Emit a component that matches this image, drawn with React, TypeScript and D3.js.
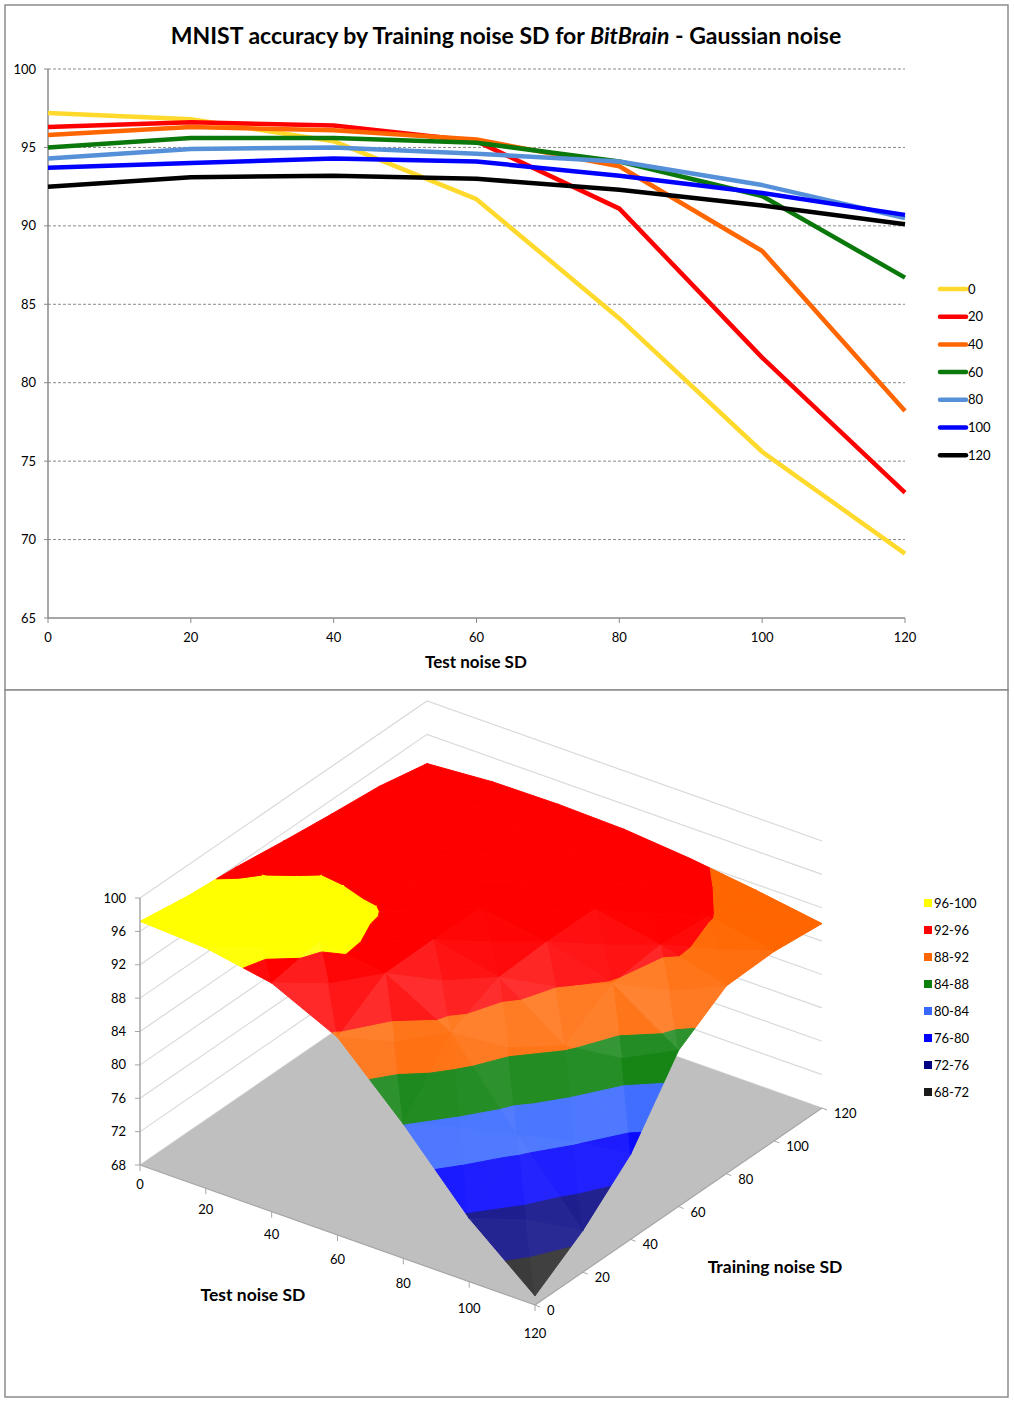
import React, { useEffect, useRef } from 'react';
import * as d3 from 'd3';

// noise SD levels (test on x, training per series)
const noiseLevels = [0, 20, 40, 60, 80, 100, 120];
const seriesNames = ['0', '20', '40', '60', '80', '100', '120'];

// accuracy (%) for each training noise SD, indexed by test noise SD
const acc0 = [97.2, 96.8, 95.4, 91.7, 84.1, 75.6, 69.1];
const acc20 = [96.3, 96.6, 96.4, 95.4, 91.1, 81.6, 73.0];
const acc40 = [95.8, 96.3, 96.1, 95.5, 93.8, 88.4, 78.2];
const acc60 = [95.0, 95.6, 95.6, 95.3, 94.1, 91.9, 86.7];
const acc80 = [94.3, 94.9, 95.0, 94.6, 94.1, 92.6, 90.5];
const acc100 = [93.7, 94.0, 94.3, 94.1, 93.2, 92.1, 90.7];
const acc120 = [92.5, 93.1, 93.2, 93.0, 92.3, 91.3, 90.1];
const seriesValues = [acc0, acc20, acc40, acc60, acc80, acc100, acc120];
const seriesColors = ['#ffd92c', '#ff0000', '#ff6600', '#0a780a', '#5590d9', '#0000ff', '#000000'];

const yTicks = [65, 70, 75, 80, 85, 90, 95, 100];
const zTicks = [68, 72, 76, 80, 84, 88, 92, 96, 100];

const bandLabels = ['96-100', '92-96', '88-92', '84-88', '80-84', '76-80', '72-76', '68-72'];
const bandLows = [96, 92, 88, 84, 80, 76, 72, 68];
const bandColors = ['#ffff00', '#ff0000', '#ff6600', '#0c800c', '#3868ff', '#0000ff', '#000080', '#1a1a1a'];

const FONT = 'Lato, "Open Sans", sans-serif';

type P3 = [number, number, number];

function clipPoly(pts: P3[], val: number, keepAbove: boolean): P3[] {
  const out: P3[] = [];
  const inside = (p: P3) => (keepAbove ? p[2] >= val : p[2] <= val);
  const cut = (a: P3, b: P3): P3 => {
    const f = (val - a[2]) / (b[2] - a[2]);
    return [a[0] + f * (b[0] - a[0]), a[1] + f * (b[1] - a[1]), val];
  };
  for (let i = 0; i < pts.length; i++) {
    const cur = pts[i];
    const prev = pts[(i + pts.length - 1) % pts.length];
    if (inside(cur)) {
      if (!inside(prev)) out.push(cut(prev, cur));
      out.push(cur);
    } else if (inside(prev)) {
      out.push(cut(prev, cur));
    }
  }
  return out;
}

const App: React.FC = () => {
  const svgRef = useRef<SVGSVGElement>(null);

  useEffect(() => {
    document.body.style.margin = '0';
    if (!svgRef.current) return;
    const svg = d3.select(svgRef.current);
    svg.selectAll('*').remove();

    // panels
    svg.append('rect').attr('x', 5).attr('y', 5).attr('width', 1003).attr('height', 685)
      .attr('fill', '#fff').attr('stroke', '#8c8c8c').attr('stroke-width', 1.5);
    svg.append('rect').attr('x', 5).attr('y', 690).attr('width', 1003).attr('height', 707)
      .attr('fill', '#fff').attr('stroke', '#8c8c8c').attr('stroke-width', 1.5);

    // ---------- top line chart ----------
    const x = d3.scaleLinear().domain([0, 120]).range([48, 905]);
    const y = d3.scaleLinear().domain([65, 100]).range([618, 69]);
    const top = svg.append('g').style('font-family', FONT);

    top.append('text')
      .attr('x', 506).attr('y', 44).attr('text-anchor', 'middle')
      .style('font-size', '23px').style('font-weight', 'bold')
      .call((t) => {
        t.append('tspan').text('MNIST accuracy by Training noise SD for ');
        t.append('tspan').style('font-style', 'italic').text('BitBrain');
        t.append('tspan').text(' - Gaussian noise');
      });

    yTicks.filter((v) => v > 65).forEach((v) => {
      top.append('line')
        .attr('x1', x(0)).attr('x2', x(120)).attr('y1', y(v)).attr('y2', y(v))
        .attr('stroke', '#8a8a8a').attr('stroke-dasharray', '3,2').attr('stroke-width', 1);
    });
    yTicks.forEach((v) => {
      top.append('line').attr('x1', x(0) - 4).attr('x2', x(0)).attr('y1', y(v)).attr('y2', y(v))
        .attr('stroke', '#8a8a8a');
      top.append('text').attr('x', 36).attr('y', y(v) + 4.5).attr('text-anchor', 'end')
        .style('font-size', '13px').text(v);
    });
    top.append('line').attr('x1', x(0)).attr('x2', x(0)).attr('y1', y(100)).attr('y2', y(65))
      .attr('stroke', '#8a8a8a').attr('stroke-width', 1.5);
    top.append('line').attr('x1', x(0)).attr('x2', x(120)).attr('y1', y(65)).attr('y2', y(65))
      .attr('stroke', '#8a8a8a').attr('stroke-width', 1.5);
    noiseLevels.forEach((v) => {
      top.append('line').attr('x1', x(v)).attr('x2', x(v)).attr('y1', y(65)).attr('y2', y(65) + 5)
        .attr('stroke', '#8a8a8a');
      top.append('text').attr('x', x(v)).attr('y', 642).attr('text-anchor', 'middle')
        .style('font-size', '13px').text(v);
    });
    top.append('text').attr('x', 476).attr('y', 668).attr('text-anchor', 'middle')
      .style('font-size', '17px').style('font-weight', 'bold').text('Test noise SD');

    const line = d3.line<number>().x((_, i) => x(noiseLevels[i])).y((d) => y(d));
    seriesValues.forEach((vals, i) => {
      top.append('path').attr('d', line(vals) as string).attr('fill', 'none')
        .attr('stroke', seriesColors[i]).attr('stroke-width', 4.5)
        .attr('stroke-linejoin', 'round');
    });
    seriesNames.forEach((name, i) => {
      const ly = 289 + i * 27.7;
      top.append('line').attr('x1', 940).attr('x2', 966).attr('y1', ly).attr('y2', ly)
        .attr('stroke', seriesColors[i]).attr('stroke-width', 4.5).attr('stroke-linecap', 'round');
      top.append('text').attr('x', 968).attr('y', ly + 4.5).style('font-size', '13px').text(name);
    });

    // ---------- bottom 3D surface ----------
    const g = svg.append('g').style('font-family', FONT);
    const ox = 140, oy = 1165;
    const T = [395, 140];
    const R = [287, -197];
    const tS = d3.scaleLinear().domain([0, 120]).range([0, 1]);
    const rS = d3.scaleLinear().domain([0, 120]).range([0, 1]);
    const zS = d3.scaleLinear().domain([68, 100]).range([0, -267]);
    const proj = (p: P3): [number, number] => [
      ox + tS(p[0]) * T[0] + rS(p[1]) * R[0],
      oy + tS(p[0]) * T[1] + rS(p[1]) * R[1] + zS(p[2]),
    ];
    const polyStr = (pts: P3[]) => pts.map((p) => proj(p).join(',')).join(' ');

    // walls gridlines
    zTicks.forEach((v) => {
      const a = proj([0, 0, v]), b = proj([0, 120, v]), c = proj([120, 120, v]);
      g.append('polyline').attr('points', [a, b, c].map((p) => p.join(',')).join(' '))
        .attr('fill', 'none').attr('stroke', '#d9d9d9').attr('stroke-width', 1.2);
    });

    // floor
    g.append('polygon')
      .attr('points', polyStr([[0, 0, 68], [120, 0, 68], [120, 120, 68], [0, 120, 68]]))
      .attr('fill', '#bfbfbf');

    // surface triangles
    const tris: P3[][] = [];
    for (let i = 0; i < noiseLevels.length - 1; i++) {
      for (let j = 0; j < noiseLevels.length - 1; j++) {
        const t0 = noiseLevels[j], t1 = noiseLevels[j + 1];
        const r0 = noiseLevels[i], r1 = noiseLevels[i + 1];
        const c: P3[] = [
          [t0, r0, seriesValues[i][j]],
          [t1, r0, seriesValues[i][j + 1]],
          [t1, r1, seriesValues[i + 1][j + 1]],
          [t0, r1, seriesValues[i + 1][j]],
        ];
        const mid: P3 = [(t0 + t1) / 2, (r0 + r1) / 2, d3.mean(c, (p) => p[2]) as number];
        for (let k = 0; k < 4; k++) tris.push([c[k], c[(k + 1) % 4], mid]);
      }
    }
    const depth = (tri: P3[]) => d3.mean(tri, (p) => p[0] - p[1]) as number;
    tris.sort((a, b) => depth(a) - depth(b));

    const L = [0.75, -0.25, 1];
    const Ln = Math.hypot(L[0], L[1], L[2]);
    const Lu = L.map((v) => v / Ln);
    const shadeOf = (tri: P3[]) => {
      const w = tri.map((p) => [p[0] * 3.5, p[1] * 3.5, p[2] * 9]);
      const u = [w[1][0] - w[0][0], w[1][1] - w[0][1], w[1][2] - w[0][2]];
      const v = [w[2][0] - w[0][0], w[2][1] - w[0][1], w[2][2] - w[0][2]];
      let n = [u[1] * v[2] - u[2] * v[1], u[2] * v[0] - u[0] * v[2], u[0] * v[1] - u[1] * v[0]];
      if (n[2] < 0) n = n.map((q) => -q);
      const nl = Math.hypot(n[0], n[1], n[2]);
      const d = (n[0] * Lu[0] + n[1] * Lu[1] + n[2] * Lu[2]) / nl - Lu[2];
      const dead = 0.07;
      return d < dead ? 0 : d - dead;
    };

    tris.forEach((tri) => {
      const s = shadeOf(tri);
      bandLows.forEach((lo, bi) => {
        let poly = clipPoly(tri, lo, true);
        if (poly.length < 3) return;
        poly = clipPoly(poly, lo + 4, false);
        if (poly.length < 3) return;
        const col = d3.interpolateRgb(bandColors[bi], '#ffffff')(Math.min(0.3, s * 1.3));
        g.append('polygon').attr('points', polyStr(poly))
          .attr('fill', col).attr('stroke', col).attr('stroke-width', 1)
          .attr('stroke-linejoin', 'round');
      });
    });

    // z axis
    const zb = proj([0, 0, 68]), zt = proj([0, 0, 100]);
    g.append('line').attr('x1', zb[0]).attr('x2', zt[0]).attr('y1', zb[1]).attr('y2', zt[1])
      .attr('stroke', '#a6a6a6').attr('stroke-width', 1.5);
    zTicks.forEach((v) => {
      const p = proj([0, 0, v]);
      g.append('line').attr('x1', p[0] - 5).attr('x2', p[0]).attr('y1', p[1]).attr('y2', p[1])
        .attr('stroke', '#a6a6a6');
      g.append('text').attr('x', p[0] - 14).attr('y', p[1] + 4.5).attr('text-anchor', 'end')
        .style('font-size', '13px').text(v);
    });

    // test axis (front-left edge)
    const ta = proj([0, 0, 68]), tb = proj([120, 0, 68]);
    g.append('line').attr('x1', ta[0]).attr('y1', ta[1]).attr('x2', tb[0]).attr('y2', tb[1])
      .attr('stroke', '#a6a6a6').attr('stroke-width', 1.2);
    noiseLevels.forEach((v) => {
      const p = proj([v, 0, 68]);
      g.append('line').attr('x1', p[0]).attr('x2', p[0]).attr('y1', p[1]).attr('y2', p[1] + 6)
        .attr('stroke', '#a6a6a6');
      g.append('text').attr('x', p[0]).attr('y', p[1] + 24 + tS(v) * 9).attr('text-anchor', 'middle')
        .style('font-size', '13px').text(v);
    });

    // training axis (front-right edge)
    const ra = proj([120, 0, 68]), rb = proj([120, 120, 68]);
    g.append('line').attr('x1', ra[0]).attr('y1', ra[1]).attr('x2', rb[0]).attr('y2', rb[1])
      .attr('stroke', '#a6a6a6').attr('stroke-width', 1.2);
    noiseLevels.forEach((v) => {
      const p = proj([120, v, 68]);
      g.append('line').attr('x1', p[0]).attr('x2', p[0] + 5).attr('y1', p[1]).attr('y2', p[1] + 2)
        .attr('stroke', '#a6a6a6');
      g.append('text').attr('x', p[0] + 12).attr('y', p[1] + 10)
        .style('font-size', '13px').text(v);
    });

    g.append('text').attr('x', 253).attr('y', 1301).attr('text-anchor', 'middle')
      .style('font-size', '17.5px').style('font-weight', 'bold').text('Test noise SD');
    g.append('text').attr('x', 775).attr('y', 1273).attr('text-anchor', 'middle')
      .style('font-size', '17.5px').style('font-weight', 'bold').text('Training noise SD');

    // band legend
    bandLabels.forEach((lab, i) => {
      const ly = 903 + i * 27;
      g.append('rect').attr('x', 924).attr('y', ly - 4).attr('width', 8).attr('height', 8)
        .attr('fill', bandColors[i]);
      g.append('text').attr('x', 934).attr('y', ly + 4.5).style('font-size', '13px').text(lab);
    });
  }, []);

  return <svg ref={svgRef} width={1014} height={1403} style={{ display: 'block' }} />;
};

export default App;
